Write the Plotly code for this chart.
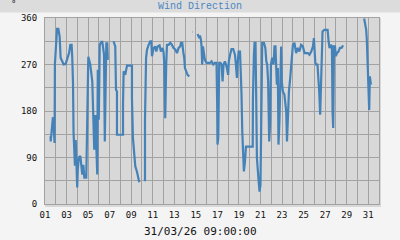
import plotly.graph_objects as go

# Day of month (fractional) and wind direction in degrees; None marks gaps in the record
days = [
    1.52, 1.53, 1.67, 1.74, 1.83, 1.89, 1.92, 2.05, 2.12, 2.24, 2.36, 2.45, 2.61, 2.73, 2.91,
    3.10, 3.23, 3.35, 3.47, 3.53, 3.60, 3.65, 3.72, 3.78, 3.85, 3.93, 3.99, 4.04, 4.14, 4.28,
    4.37, 4.46, 4.56, 4.65, 4.83, 4.90, 4.95, 5.02, 5.20, 5.29, 5.39, 5.48, 5.57, 5.67, 5.76,
    5.85, 5.90, 5.99, 6.08, 6.23, 6.32, 6.41, 6.48, 6.55, 6.60, 6.69, 6.78, 6.83,
    6.90,
    7.36, 7.52, 7.59, 7.68, 7.68, 8.24, 8.24, 8.30, 8.45, 8.55, 8.61, 9.07, 9.07, 9.16, 9.29,
    9.38, 9.53, 9.63, 9.75,
    9.90,
    10.28, 10.28, 10.38, 10.47, 10.62, 10.77, 10.87, 10.93, 11.08, 11.23, 11.33, 11.45, 11.63,
    11.76, 11.91, 12.00, 12.06, 12.16, 12.25, 12.32, 12.47, 12.63, 12.78, 12.93, 13.09, 13.25,
    13.40, 13.55, 13.62, 13.74, 13.83, 13.92, 13.99, 14.08, 14.23, 14.39,
    14.50,
    14.69, 14.72,
    14.90,
    15.16, 15.23, 15.32, 15.38, 15.47, 15.53, 15.59, 15.66, 15.75, 15.84, 15.99, 16.15, 16.31,
    16.46, 16.62, 16.77, 16.92, 16.98, 17.01, 17.08, 17.15, 17.17, 17.29, 17.39, 17.48, 17.57,
    17.70, 17.85, 18.00, 18.06, 18.18, 18.31, 18.47, 18.63, 18.72, 18.81, 18.87, 18.97, 19.10,
    19.15, 19.24, 19.31, 19.40, 19.46, 19.56, 19.65, 20.28, 20.30, 20.39, 20.45, 20.54, 20.60,
    20.67, 20.76, 20.85, 20.91, 21.00, 21.10, 21.16, 21.32, 21.45, 21.54, 21.62, 21.71, 21.81,
    21.90, 21.97, 22.09, 22.21, 22.30, 22.39, 22.45, 22.52, 22.61, 22.67, 22.76, 22.85, 22.92,
    22.98, 23.08, 23.22, 23.39, 23.46, 23.55, 23.64, 23.76, 23.85, 24.01, 24.15, 24.31, 24.47,
    24.61, 24.77, 24.93, 25.09, 25.24, 25.40, 25.55, 25.71, 25.87, 25.96, 26.08, 26.14, 26.29,
    26.39, 26.45, 26.54, 26.60, 26.66, 26.76, 26.92, 27.08, 27.23, 27.32, 27.41, 27.54, 27.63,
    27.69, 27.75, 27.82, 27.91, 28.00, 28.09, 28.24, 28.37, 28.52, 28.67,
    29.50,
    30.62, 30.71, 30.81, 30.87, 30.93, 30.99, 31.09, 31.15, 31.25,
]
direction = [
    131, 121, 153, 168, 140, 118, 271, 328, 339, 339, 324, 283, 276, 270, 271,
    283, 292, 308, 308, 283, 234, 138, 105, 74, 124, 86, 32, 66, 90, 93,
    66, 57, 76, 51, 51, 142, 196, 285, 270, 256, 237, 171, 105, 172, 95,
    57, 260, 163, 308, 314, 314, 302, 289, 121, 202, 311, 311, 279,
    None,
    315, 305, 221, 218, 134, 134, 195, 257, 250, 260, 268, 268, 205, 128, 92,
    73, 63, 53, 42,
    None,
    44, 160, 283, 299, 308, 315, 315, 286, 302, 305, 295, 305, 307,
    295, 302, 295, 276, 166, 270, 308, 308, 312, 308, 302, 299, 292,
    302, 305, 312, 312, 295, 283, 263, 257, 250, 247,
    None,
    333, 333,
    None,
    329, 324, 321, 326, 318, 305, 270, 305, 295, 279, 273, 273, 273,
    276, 270, 273, 273, 195, 115, 128, 263, 273, 273, 270, 237, 270,
    276, 266, 250, 276, 289, 300, 300, 289, 270, 244, 270, 295, 295,
    270, 212, 140, 102, 63, 82, 111, 111, 205, 289, 312, 312, 205,
    89, 63, 31, 24, 37, 173, 312, 312, 302, 276, 270, 237, 121,
    160, 270, 283, 270, 305, 305, 270, 231, 263, 115, 160, 263, 305,
    237, 218, 212, 179, 121, 173, 218, 244, 276, 308, 312, 292, 302,
    295, 308, 305, 292, 292, 292, 289, 295, 305, 321, 276, 270, 270,
    244, 218, 173, 237, 302, 334, 337, 337, 337, 315, 302, 308, 305,
    179, 147, 305, 305, 286, 292, 295, 302, 302, 307,
    None,
    359, 350, 337, 318, 276, 218, 182, 247, 231,
]

x_grid = list(range(1, 33))
x_labels = [f"{d:02d}" if d % 2 == 1 else "" for d in x_grid]
y_grid = list(range(0, 361, 45))
y_labels = [str(v) if v % 90 == 0 else "" for v in y_grid]

title_text = "Wind Direction"
unit_text = "°"
stamp_text = "31/03/26 09:00:00"

W, H = 400, 240
L, R, T, B = 45, 21, 18, 36
pw, ph = W - L - R, H - T - B

def px(xpix):
    return (xpix - L) / pw

def py(ypix):
    return (H - B - ypix) / ph

fig = go.Figure()
fig.add_trace(go.Scatter(
    x=days, y=direction, mode="lines", connectgaps=False,
    line=dict(color="#4582b8", width=2.2), hoverinfo="skip",
))

grid = "#a2a2a2"
tickfont = dict(family="DejaVu Sans Mono", size=9, color="#111111")
fig.update_layout(
    width=W, height=H, margin=dict(l=L, r=R, t=T, b=B, pad=0),
    paper_bgcolor="#f4f4f4", plot_bgcolor="#d8d8d8", showlegend=False,
    xaxis=dict(range=[1, 32], tickmode="array", tickvals=x_grid, ticktext=x_labels,
               showgrid=True, gridcolor=grid, gridwidth=1, zeroline=False,
               showline=True, mirror=True, linecolor=grid, linewidth=1,
               ticks="", tickfont=tickfont, ticklabelstandoff=2),
    yaxis=dict(range=[0, 360], tickmode="array", tickvals=y_grid, ticktext=y_labels,
               showgrid=True, gridcolor=grid, gridwidth=1, zeroline=False,
               showline=True, mirror=True, linecolor=grid, linewidth=1,
               ticks="", tickfont=tickfont, ticklabelstandoff=5),
    shapes=[
        dict(type="rect", xref="paper", yref="paper", layer="below",
             x0=px(0), x1=px(W), y0=py(12.5), y1=py(0), fillcolor="#dcdcdc", line=dict(width=0)),
        dict(type="rect", xref="paper", yref="paper", layer="below",
             x0=px(L), x1=px(W - R + 2), y0=py(H - B + 3), y1=py(T), fillcolor="#d8d8d8",
             line=dict(width=0)),
    ],
    annotations=[
        dict(text=title_text, xref="paper", yref="paper", x=px(200), y=py(6), showarrow=False,
             xanchor="center", yanchor="middle",
             font=dict(family="Liberation Mono", size=10, color="#4a86c2")),
        dict(text=unit_text, xref="paper", yref="paper", x=px(13), y=py(4), showarrow=False,
             xanchor="center", yanchor="middle",
             font=dict(family="DejaVu Sans Mono", size=9, color="#111111")),
        dict(text=stamp_text, xref="paper", yref="paper", x=px(200), y=py(231.5), showarrow=False,
             xanchor="center", yanchor="middle",
             font=dict(family="DejaVu Sans Mono", size=11, color="#111111")),
    ],
)

fig.write_html("out.html")
